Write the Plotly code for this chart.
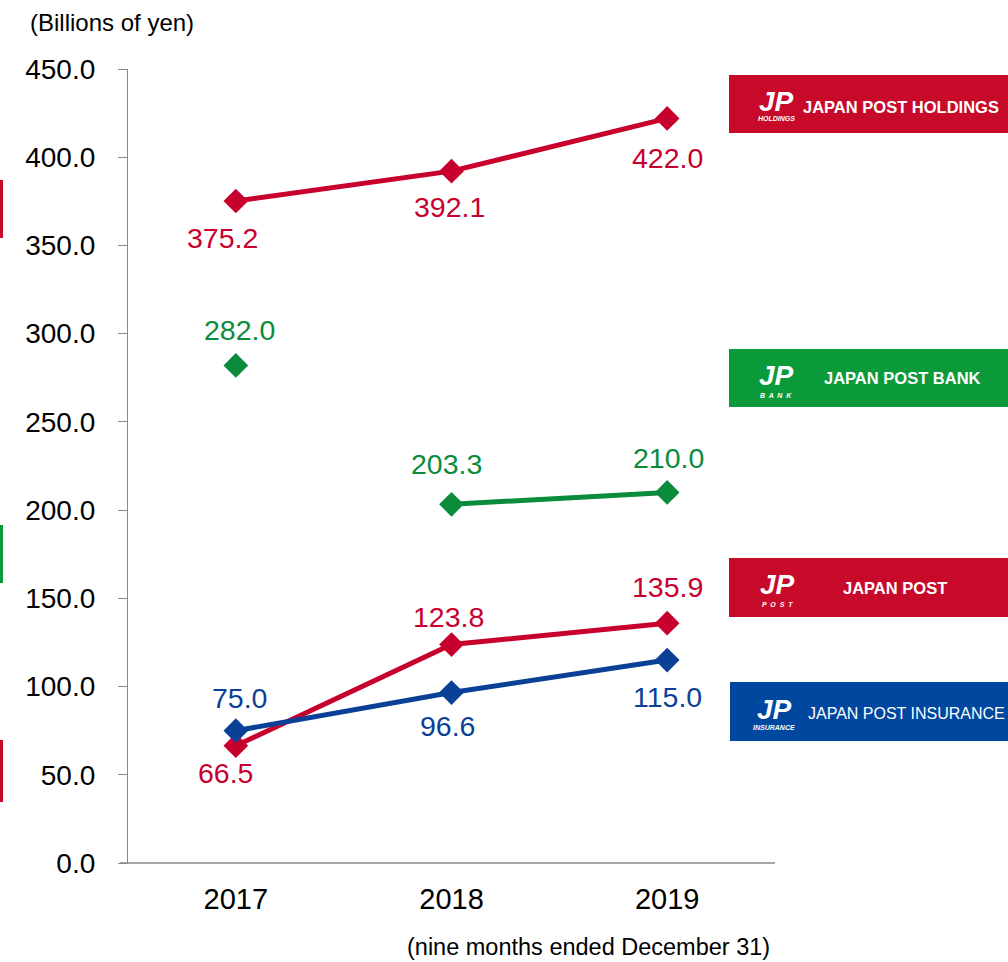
import plotly.graph_objects as go

years = ["2017", "2018", "2019"]
holdings = [375.2, 392.1, 422.0]
bank = [282.0, 203.3, 210.0]
post = [66.5, 123.8, 135.9]
insurance = [75.0, 96.6, 115.0]
y_ticks = [0, 50, 100, 150, 200, 250, 300, 350, 400, 450]

RED = "#C8002E"
GREEN = "#0A8C3C"
BLUE = "#0A4196"
BOX_RED = "#C80A2A"
BOX_GREEN = "#0A9A3A"
BOX_BLUE = "#0047A0"
FONT = "Liberation Sans, Arial, sans-serif"

W, H = 1008, 962
L, R, T, B = 128, 775, 69, 863

def px(x):
    return (x - L) / (R - L)

def py(y):
    return (B - y) / (B - T)

fig = go.Figure()

def add_series(xs, ys, color, mode="lines+markers"):
    fig.add_trace(go.Scatter(
        x=xs, y=ys, mode=mode,
        line=dict(color=color, width=5),
        marker=dict(symbol="diamond", size=19, color=color),
        showlegend=False, hoverinfo="skip", cliponaxis=False))

add_series(years, holdings, RED)
add_series(years[:1], bank[:1], GREEN, mode="markers")
add_series(years[1:], bank[1:], GREEN)
add_series(years, post, RED)
add_series(years, insurance, BLUE)

# label offsets (yshift, xshift) per series/point
label_specs = [
    (holdings, RED, [(-37, -13), (-36, -2), (-40, 0)]),
    (bank, GREEN, [(35, 4), (40, -5), (34, 1)]),
    (post, RED, [(-27, -10), (28, -3), (36, 0)]),
    (insurance, BLUE, [(33, 4), (-33, -4), (-37, 0)]),
]
for vals, color, offs in label_specs:
    for i, (v, (ys, xs)) in enumerate(zip(vals, offs)):
        fig.add_annotation(x=i, y=v, xref="x", yref="y", text=f"{v:.1f}",
                           showarrow=False, yshift=ys, xshift=xs,
                           font=dict(family=FONT, size=28.5, color=color))

shapes = []
boxes = [
    (729, 75, 1008, 133, BOX_RED),
    (729, 349, 1008, 407, BOX_GREEN),
    (729, 558, 1008, 617, BOX_RED),
    (730, 682, 1008, 741, BOX_BLUE),
]
for x0, y0, x1, y1, c in boxes:
    shapes.append(dict(type="rect", xref="paper", yref="paper",
                       x0=px(x0), x1=px(x1), y0=py(y1), y1=py(y0),
                       fillcolor=c, line=dict(width=0), layer="above"))
for y0, y1, c in [(180, 238, BOX_RED), (525, 583, BOX_GREEN), (740, 802, BOX_RED)]:
    shapes.append(dict(type="rect", xref="paper", yref="paper",
                       x0=px(0), x1=px(3), y0=py(y1), y1=py(y0),
                       fillcolor=c, line=dict(width=0)))
shapes.append(dict(type="line", xref="paper", yref="paper",
                   x0=px(120), x1=px(775), y0=0, y1=0,
                   line=dict(color="#888888", width=1.3)))
fig.update_layout(shapes=shapes)

def paper_text(x, y, text, size, bold=False, italic=False, color="white",
               xanchor="center"):
    t = text
    if bold:
        t = f"<b>{t}</b>"
    if italic:
        t = f"<i>{t}</i>"
    fig.add_annotation(xref="paper", yref="paper", x=px(x), y=py(y),
                       text=t, showarrow=False, xanchor=xanchor, yanchor="middle",
                       font=dict(family=FONT, size=size, color=color))

logos = [
    (776, 102, 118, "HOLDINGS", 801, 107, "JAPAN POST HOLDINGS", True, 16.5),
    (776, 375, 395, "B  A  N  K", 822, 378, "JAPAN POST BANK", True, 16.5),
    (777, 585, 604, "P  O  S  T", 841, 588, "JAPAN POST", True, 16.5),
    (774, 709, 727, "INSURANCE", 806, 713, "JAPAN POST INSURANCE", False, 16),
]
for lx, ly, sy, sub, tx, ty, name, bold, size in logos:
    paper_text(lx, ly, "JP", 28, bold=True, italic=True)
    paper_text(lx, sy, sub, 7, bold=True, italic=True)
    paper_text(tx, ty, name, size, bold=bold, xanchor="left")

paper_text(28, 22, "(Billions of yen)", 24, color="black", xanchor="left")
paper_text(405, 947, "(nine months ended December 31)", 23.5, color="black",
           xanchor="left")

fig.update_layout(
    width=W, height=H,
    margin=dict(l=L, r=W - R, t=T, b=H - B, pad=0),
    plot_bgcolor="white", paper_bgcolor="white",
    font=dict(family=FONT, color="black"),
    xaxis=dict(type="category", range=[-0.5, 2.5], showgrid=False,
               showline=False, ticks="", zeroline=False,
               tickfont=dict(size=29, family=FONT), ticklen=0,
               ticklabelstandoff=16),
    yaxis=dict(range=[0, 450], tickvals=y_ticks,
               ticktext=[f"{v:.1f}" for v in y_ticks],
               showgrid=False, zeroline=False, showline=True,
               linecolor="#888888", linewidth=1.3,
               ticks="outside", ticklen=9, tickcolor="#888888",
               ticklabelstandoff=17,
               tickfont=dict(size=28, family=FONT)),
)

fig.write_html("out.html", config={"displayModeBar": False},
               post_script="document.body.style.margin='0';")
